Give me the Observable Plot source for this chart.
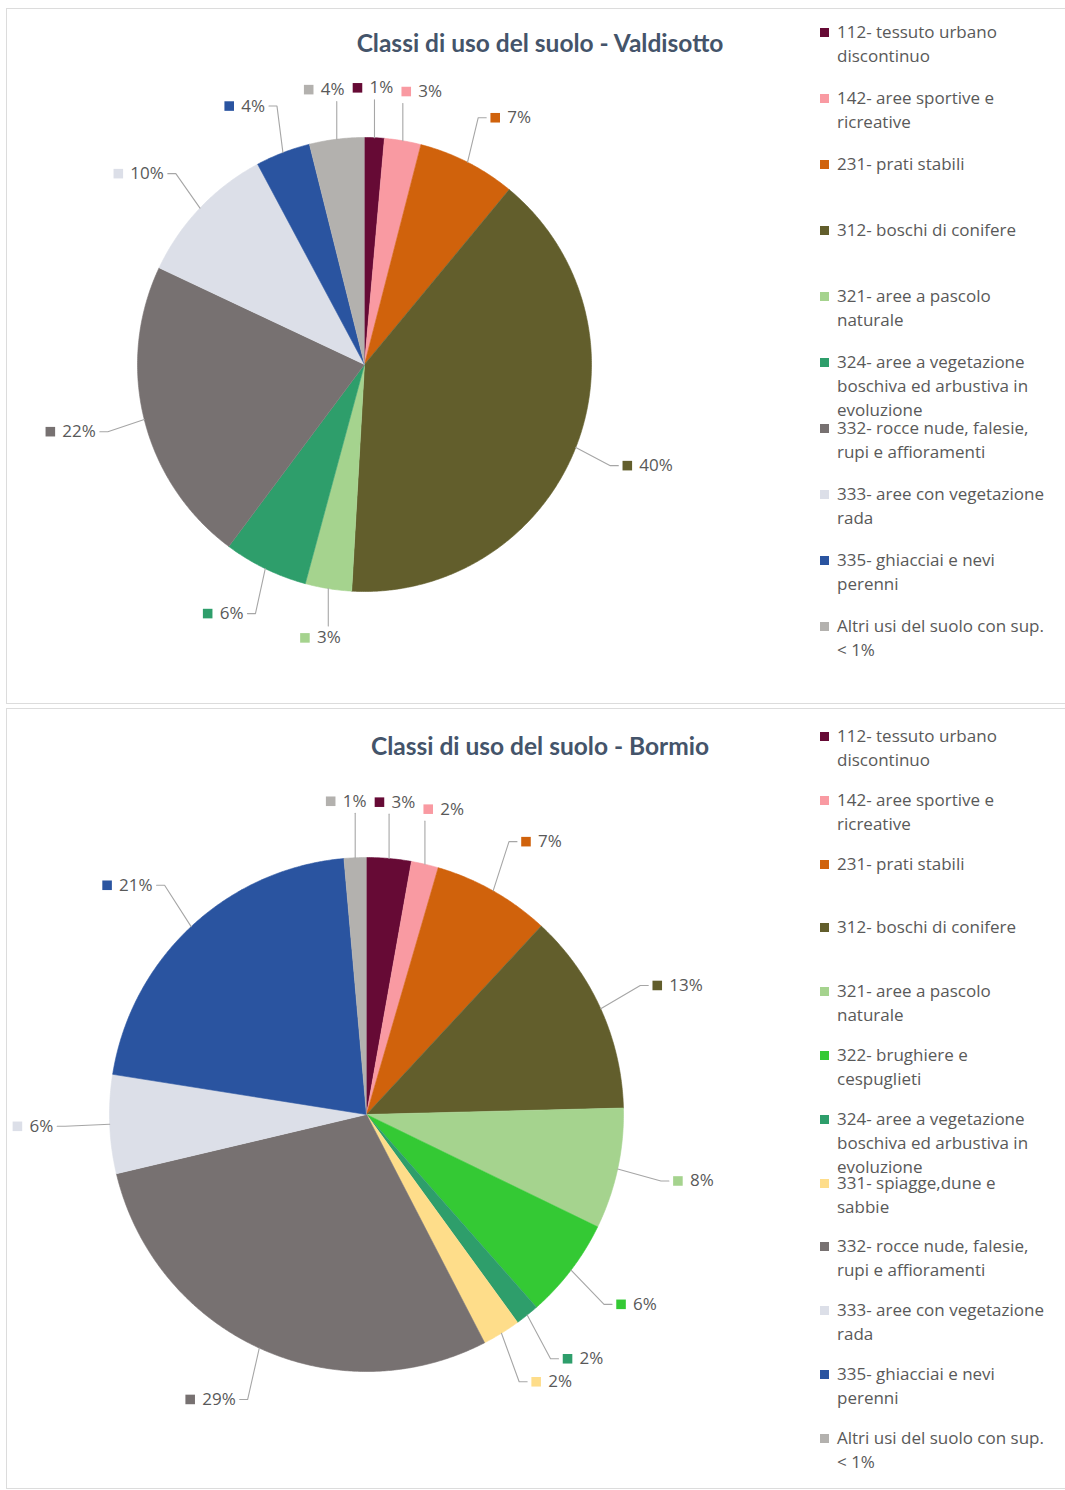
<!DOCTYPE html>
<html><head><meta charset="utf-8">
<script src="https://cdn.jsdelivr.net/npm/d3@7"></script>
<script src="https://cdn.jsdelivr.net/npm/@observablehq/plot@0.6"></script>
<style>
body{margin:0;background:#fff;width:1065px;height:1490px;position:relative;overflow:hidden;font-family:"Open Sans",sans-serif;}
.panel{position:absolute;left:6px;width:1062px;border:1.5px solid #dcdcdc;box-sizing:border-box;}
.title{position:absolute;font-family:Lato,sans-serif;font-weight:bold;color:#44546a;font-size:24.5px;transform:translate(-50%,-50%);white-space:nowrap}
.leg{position:absolute;left:820px;font-size:17px;color:#595959;line-height:24px;}
.leg .sw{position:absolute;left:0;top:8px;width:9px;height:9px}
.leg .tx{position:absolute;left:17px;top:0;white-space:pre}
.chart{position:absolute;left:0}
</style></head><body>
<script>
// ---- data ----
const categories = ["112","142","231","312","321","322","324","331","332","333","335","altri"];
const categoryLabels = [
  "112- tessuto urbano\ndiscontinuo",
  "142- aree sportive e\nricreative",
  "231- prati stabili",
  "312- boschi di conifere",
  "321- aree a pascolo\nnaturale",
  "322- brughiere e\ncespuglieti",
  "324- aree a vegetazione\nboschiva ed arbustiva in\nevoluzione",
  "331- spiagge,dune e\nsabbie",
  "332- rocce nude, falesie,\nrupi e affioramenti",
  "333- aree con vegetazione\nrada",
  "335- ghiacciai e nevi\nperenni",
  "Altri usi del suolo con sup.\n< 1%"
];
const categoryColors = ["#660a35","#f99aa2","#d0620c","#625e2c","#a5d38e","#34c934","#2e9e6b","#fedd8a","#777171","#dcdfe8","#2a54a0","#b3b1ae"];

const valdisottoTitle = "Classi di uso del suolo - Valdisotto";
const valdisottoCategories = ["112","142","231","312","321","324","332","333","335","altri"];
const valdisottoValues = [1.4, 2.6, 7.0, 39.9, 3.3, 6.0, 21.8, 10.2, 3.9, 3.9];

const bormioTitle = "Classi di uso del suolo - Bormio";
const bormioCategories = ["112","142","231","312","321","322","324","331","332","333","335","altri"];
const bormioValues = [2.8, 1.7, 7.4, 12.7, 7.6, 6.3, 1.5, 2.4, 28.9, 6.2, 21.1, 1.4];

// ---- drawing ----
const LABEL_FONT = 17;
const ctx = document.createElement("canvas").getContext("2d");
ctx.font = LABEL_FONT + "px 'Open Sans'";

function pieChart({cats, values, W, H, cx, cy, r}) {
  const total = d3.sum(values);
  const arcs = d3.pie().sort(null).value(d => d)(values);
  const slicePts = [];
  arcs.forEach((a, i) => {
    const n = Math.max(3, Math.ceil((a.endAngle - a.startAngle) / 0.008));
    slicePts.push({cat: cats[i], x: 0, y: 0});
    for (let k = 0; k <= n; k++) {
      const t = a.startAngle + (a.endAngle - a.startAngle) * k / n;
      slicePts.push({cat: cats[i], x: Math.sin(t), y: Math.cos(t)});
    }
  });
  const RL = 1.22;
  const labels = arcs.map((a, i) => {
    const m = (a.startAngle + a.endAngle) / 2;
    const s = Math.sin(m), c = Math.cos(m);
    const txt = Math.round(values[i] / total * 100) + "%";
    const w = 17 + ctx.measureText(txt).width;
    const lx = s * RL * r, ly = -c * RL * r;
    const anchor = s > 0.25 ? "start" : s < -0.25 ? "end" : "middle";
    const left = anchor === "start" ? lx : anchor === "end" ? lx - w : lx - w / 2;
    return {cat: cats[i], txt, s, c, w, left, top: ly - 10, anchor, ex: s * r, ey: -c * r};
  });
  for (let it = 0; it < 60; it++) {
    let moved = false;
    for (let p = 0; p < labels.length; p++) for (let q = p + 1; q < labels.length; q++) {
      const A = labels[p], B = labels[q];
      const ox = Math.min(A.left + A.w, B.left + B.w) - Math.max(A.left, B.left) + 8;
      const oy = Math.min(A.top + 20, B.top + 20) - Math.max(A.top, B.top) + 3;
      if (ox > 0 && oy > 0) {
        moved = true;
        const horiz = Math.abs(A.c) > 0.85 && Math.abs(B.c) > 0.85;
        if (horiz) { const [L, R] = A.left < B.left ? [A, B] : [B, A]; L.left -= ox / 2; R.left += ox / 2; }
        else { const [U, D] = A.top < B.top ? [A, B] : [B, A]; U.top -= oy / 2; D.top += oy / 2; }
      }
    }
    if (!moved) break;
  }
  const k = 1 / r;
  const leaders = [];
  labels.forEach((L, i) => {
    const my = L.top + 10;
    let pts;
    if (L.anchor === "start") pts = [[L.ex, L.ey], [L.left - 12, my], [L.left - 4, my]];
    else if (L.anchor === "end") pts = [[L.ex, L.ey], [L.left + L.w + 12, my], [L.left + L.w + 4, my]];
    else pts = L.c > 0 ? [[L.ex, L.ey], [L.ex, L.top + 22]] : [[L.ex, L.ey], [L.ex, L.top - 2]];
    pts.forEach(([px, py]) => leaders.push({id: i, x: px * k, y: -py * k}));
  });
  const markers = labels.map(L => ({cat: L.cat, x: (L.left + 5) * k, y: -(L.top + 10) * k}));
  const texts = labels.map(L => ({txt: L.txt, x: (L.left + 17) * k, y: -(L.top + 10) * k}));

  return Plot.plot({
    width: W, height: H, margin: 0,
    x: {domain: [-cx / r, (W - cx) / r], axis: null},
    y: {domain: [-(H - cy) / r, cy / r], axis: null},
    color: {domain: categories, range: categoryColors},
    style: {background: "transparent", overflow: "visible"},
    marks: [
      Plot.line(slicePts, {x: "x", y: "y", z: "cat", fill: "cat", stroke: "cat", strokeWidth: 0.6, curve: "linear"}),
      Plot.line(leaders, {x: "x", y: "y", z: "id", stroke: "#a6a6a6", strokeWidth: 1.1}),
      Plot.dot(markers, {x: "x", y: "y", symbol: "square", r: 5.4, fill: "cat", stroke: null}),
      Plot.text(texts, {x: "x", y: "y", text: "txt", textAnchor: "start", fontSize: LABEL_FONT, fill: "#595959", fontFamily: "Open Sans"})
    ]
  });
}

function addPanel({top, height, title, titleY, cats, values, chartTop, W, H, cx, cy, r, legY0, legStep}) {
  const panel = document.createElement("div");
  panel.className = "panel";
  panel.style.top = top + "px";
  panel.style.height = height + "px";
  document.body.appendChild(panel);

  const chart = pieChart({cats, values, W, H, cx, cy, r});
  const wrap = document.createElement("div");
  wrap.className = "chart";
  wrap.style.top = chartTop + "px";
  wrap.appendChild(chart);
  document.body.appendChild(wrap);

  const t = document.createElement("div");
  t.className = "title";
  t.style.left = "540px";
  t.style.top = titleY + "px";
  t.textContent = title;
  document.body.appendChild(t);

  cats.forEach((c, i) => {
    const idx = categories.indexOf(c);
    const item = document.createElement("div");
    item.className = "leg";
    item.style.top = (legY0 + i * legStep - 12) + "px";
    const sw = document.createElement("div");
    sw.className = "sw";
    sw.style.background = categoryColors[idx];
    const tx = document.createElement("div");
    tx.className = "tx";
    tx.textContent = categoryLabels[idx];
    item.appendChild(sw); item.appendChild(tx);
    document.body.appendChild(item);
  });
}

addPanel({top: 8, height: 696, title: valdisottoTitle, titleY: 42, cats: valdisottoCategories, values: valdisottoValues,
  chartTop: 0, W: 800, H: 700, cx: 364, cy: 364, r: 227, legY0: 32, legStep: 66});
addPanel({top: 708, height: 781, title: bormioTitle, titleY: 745, cats: bormioCategories, values: bormioValues,
  chartTop: 700, W: 800, H: 790, cx: 366, cy: 414, r: 257, legY0: 736, legStep: 63.8});
</script>
</body></html>
